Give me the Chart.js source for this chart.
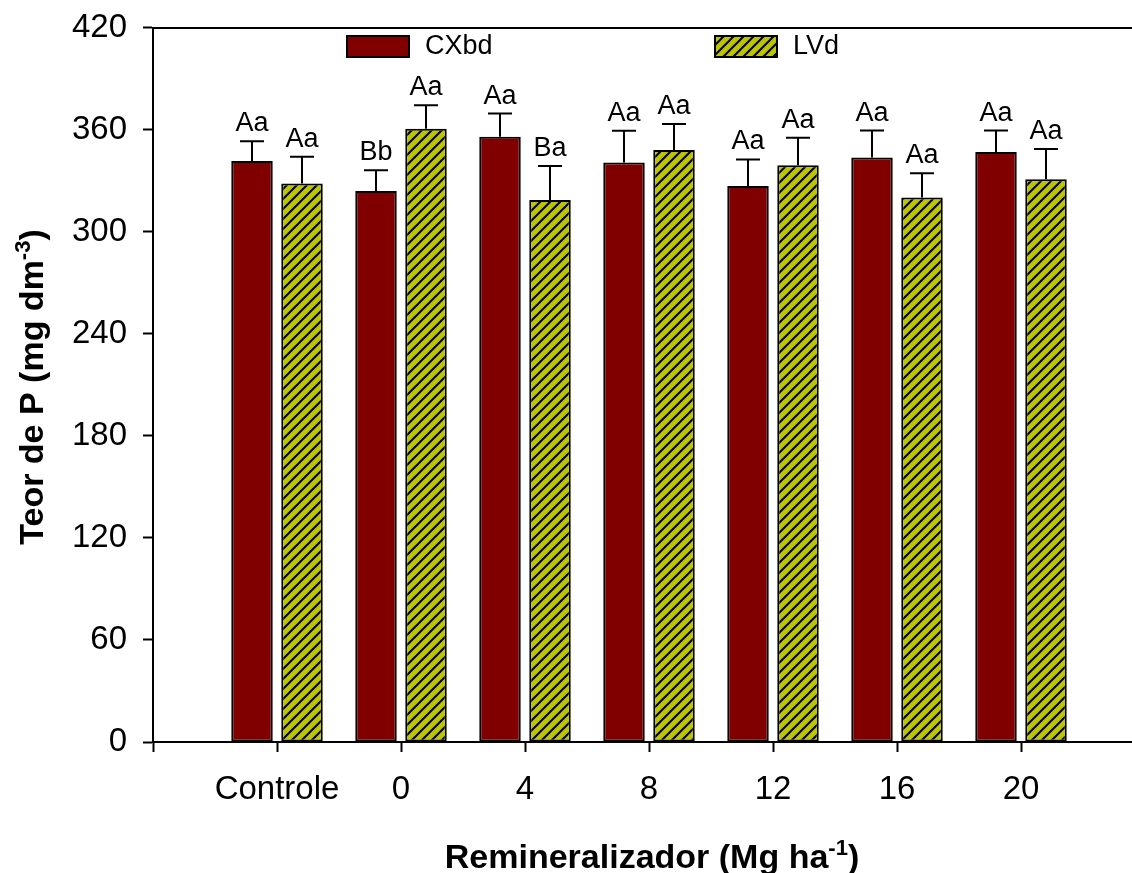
<!DOCTYPE html>
<html>
<head>
<meta charset="utf-8">
<script src="https://cdn.jsdelivr.net/npm/chart.js@4.4.0/dist/chart.umd.min.js"></script>
<style>
    html, body { margin: 0; padding: 0; background: #fff; overflow: hidden; }
    #wrap { width: 1132px; height: 873px; overflow: hidden; }
    /* o Chart.js reserva meia etiqueta no topo; subo o canvas para compensar */
    canvas { display: block; margin-top: -8px; }
</style>
</head>
<body>
<div id="wrap"><canvas id="grafico" width="1163" height="881"></canvas></div>
<script>
// dados do gráfico (as pontas vazias só abrem espaço no eixo)
var categorias = ['', 'Controle', '0', '4', '8', '12', '16', '20', ''];
var cxbd = [null, 341.7, 324, 355.9, 340.8, 326.9, 343.8, 346.9, null];
var cxbdErro = [null, 11.6, 12.3, 13.7, 18.6, 15.7, 15.8, 12.7, null];
var lvd = [null, 328.5, 360.6, 318.7, 348.1, 339.1, 320.2, 331, null];
var lvdErro = [null, 15.7, 13.9, 20, 15.3, 16.2, 14.2, 17.7, null];
var letrasCxbd = ['', 'Aa', 'Bb', 'Aa', 'Aa', 'Aa', 'Aa', 'Aa', ''];
var letrasLvd = ['', 'Aa', 'Aa', 'Ba', 'Aa', 'Aa', 'Aa', 'Aa', ''];
var ticksY = [0, 60, 120, 180, 240, 300, 360, 420];

var fonte = "'Liberation Sans', Arial, sans-serif";
var DESLOC = 8; // mesmo valor do margin-top negativo

// hachura diagonal do LVd
function criarHachura() {
    var c = document.createElement('canvas');
    c.width = 10; c.height = 10;
    var g = c.getContext('2d');
    g.fillStyle = '#bdc400';
    g.fillRect(0, 0, 10, 10);
    g.strokeStyle = '#000';
    g.lineWidth = 2;
    g.beginPath();
    g.moveTo(-2, 12); g.lineTo(12, -2);
    g.moveTo(-7, 7); g.lineTo(7, -7);
    g.moveTo(3, 17); g.lineTo(17, 3);
    g.stroke();
    return g.createPattern(c, 'repeat');
}

// barras de erro, letras, legenda e títulos dos eixos
var extras = {
    id: 'extras',
    afterDatasetsDraw: function(chart) {
        var ctx = chart.ctx;
        var y = chart.scales.y;
        var erros = [cxbdErro, lvdErro];
        var letras = [letrasCxbd, letrasLvd];
        ctx.save();
        chart.data.datasets.forEach(function(ds, i) {
            var meta = chart.getDatasetMeta(i);
            ds.data.forEach(function(v, j) {
                if (v === null) return;
                var bar = meta.data[j];
                var topo = y.getPixelForValue(v + erros[i][j]);
                ctx.strokeStyle = '#000';
                ctx.lineWidth = 2;
                ctx.beginPath();
                ctx.moveTo(bar.x, bar.y);
                ctx.lineTo(bar.x, topo);
                ctx.moveTo(bar.x - 12, topo);
                ctx.lineTo(bar.x + 12, topo);
                ctx.stroke();
                ctx.fillStyle = '#000';
                ctx.font = '27px ' + fonte;
                ctx.textAlign = 'center';
                ctx.textBaseline = 'alphabetic';
                ctx.fillText(letras[i][j], bar.x, topo - 10);
            });
        });

        // daqui em diante, coordenadas da tela
        ctx.translate(0, DESLOC);

        // legenda
        var posLegenda = [347, 715];
        chart.data.datasets.forEach(function(ds, i) {
            var x0 = posLegenda[i];
            ctx.fillStyle = ds.backgroundColor;
            ctx.fillRect(x0, 36, 62, 21);
            ctx.strokeStyle = '#000';
            ctx.lineWidth = 2;
            ctx.strokeRect(x0, 36, 62, 21);
            ctx.fillStyle = '#000';
            ctx.font = '27px ' + fonte;
            ctx.textAlign = 'left';
            ctx.textBaseline = 'middle';
            ctx.fillText(ds.label, x0 + 78, 47);
        });

        // títulos com expoente
        function tituloExp(base, exp, fim, cx, cy, rot) {
            ctx.save();
            ctx.translate(cx, cy);
            ctx.rotate(rot);
            ctx.fillStyle = '#000';
            ctx.textBaseline = 'alphabetic';
            ctx.textAlign = 'left';
            ctx.font = 'bold 34px ' + fonte;
            var w1 = ctx.measureText(base).width;
            var w3 = ctx.measureText(fim).width;
            ctx.font = 'bold 22px ' + fonte;
            var w2 = ctx.measureText(exp).width;
            var x = -(w1 + w2 + w3) / 2;
            ctx.font = 'bold 34px ' + fonte;
            ctx.fillText(base, x, 12);
            ctx.font = 'bold 22px ' + fonte;
            ctx.fillText(exp, x + w1, -1);
            ctx.font = 'bold 34px ' + fonte;
            ctx.fillText(fim, x + w1 + w2, 12);
            ctx.restore();
        }
        tituloExp('Teor de P (mg dm', '-3', ')', 31, 387, -Math.PI / 2);
        tituloExp('Remineralizador (Mg ha', '-1', ')', 652, 856, 0);
        ctx.restore();
    }
};

new Chart(document.getElementById('grafico'), {
    type: 'bar',
    data: {
        labels: categorias,
        datasets: [{
            label: 'CXbd',
            data: cxbd,
            backgroundColor: '#800000',
            borderColor: '#000',
            borderWidth: 2,
            borderSkipped: false,
            categoryPercentage: 100 / 124,
            barPercentage: 0.83
        }, {
            label: 'LVd',
            data: lvd,
            backgroundColor: criarHachura(),
            borderColor: '#000',
            borderWidth: 2,
            borderSkipped: false,
            categoryPercentage: 100 / 124,
            barPercentage: 0.83
        }]
    },
    options: {
        responsive: false,
        animation: false,
        layout: { padding: { top: 20, right: 0, left: 0, bottom: 0 } },
        plugins: {
            legend: { display: false },
            tooltip: { enabled: false }
        },
        scales: {
            x: {
                offset: false,
                ticks: { font: { family: fonte, size: 33 }, color: '#000', padding: 18, autoSkip: false, maxRotation: 0 },
                grid: { offset: false, drawOnChartArea: false, tickLength: 10, tickWidth: 2, color: '#000' },
                border: { display: true, color: '#000', width: 2 },
                afterFit: function(s) { s.height = 131; }
            },
            xTopo: {
                type: 'category',
                position: 'top',
                offset: false,
                ticks: { display: false },
                grid: { display: false, drawTicks: false },
                border: { display: true, color: '#000', width: 2 },
                afterFit: function(s) { s.height = 0; }
            },
            y: {
                min: 0,
                max: 420,
                afterBuildTicks: function(s) { s.ticks = ticksY.map(function(v) { return { value: v }; }); },
                ticks: { font: { family: fonte, size: 33 }, color: '#000', padding: 16 },
                grid: { drawOnChartArea: false, tickLength: 10, tickWidth: 2, color: '#000' },
                border: { display: true, color: '#000', width: 2 },
                afterFit: function(s) { s.width = 153; }
            }
        }
    },
    plugins: [extras]
});
</script>
</body>
</html>
